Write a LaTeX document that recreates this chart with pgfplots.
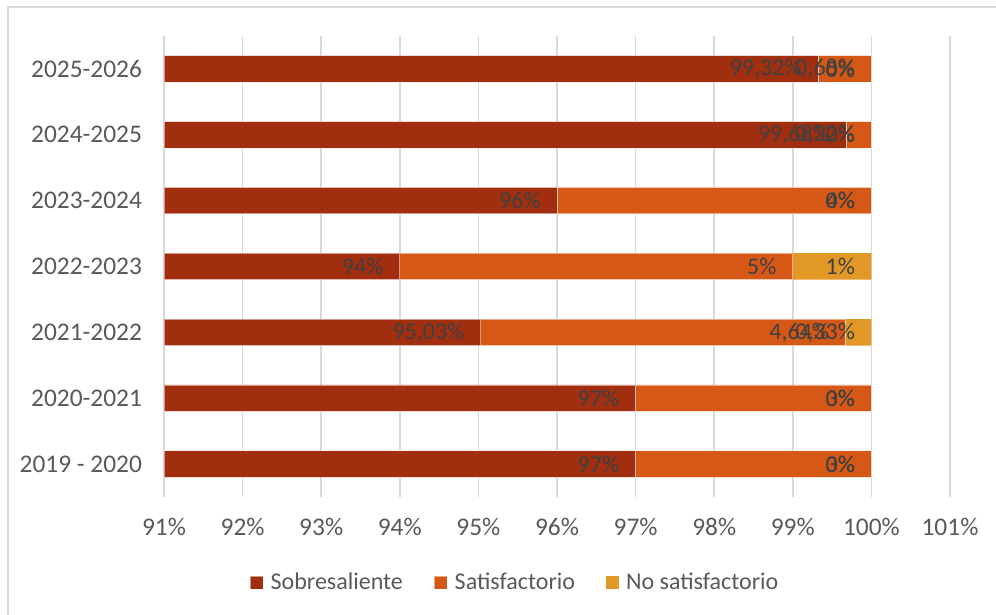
\documentclass[border=0pt]{standalone}
\usepackage{pgfplots}
\pgfplotsset{compat=1.18}
\usepackage{pgfplotstable}
\usepackage{fontspec}
\setmainfont{Carlito}
\definecolor{cSob}{HTML}{A22E10}
\definecolor{cSat}{HTML}{D55816}
\definecolor{cNo}{HTML}{E19826}
\definecolor{cgrid}{HTML}{D9D9D9}
\definecolor{ctick}{HTML}{595959}
\definecolor{clab}{HTML}{404040}

% y: category, v: value, e: end of the segment (for the label), l: label
\pgfplotstableread{
y v e l
0 97 97 97
1 97 97 97
2 95.03 95.03 95,03
3 94 94 94
4 96 96 96
5 99.68 99.68 99,68
6 99.32 99.32 99,32
}\sob
\pgfplotstableread{
y v e l
0 3 100 3
1 3 100 3
2 4.64 99.67 4,64
3 5 99 5
4 4 100 4
5 0.32 100 0,32
6 0.68 100 0,68
}\sat
\pgfplotstableread{
y v e l
0 0 100 0
1 0 100 0
2 0.33 100 0,33
3 1 100 1
4 0 100 0
5 0 100 0
6 0 100 0
}\nosat

\pgfplotsset{
  common/.style={
    at={(82pt,59pt)}, anchor=south west,
    scale only axis, width=393pt, height=230.5pt,
    xmin=91, xmax=101, ymin=-0.5, ymax=6.5,
    enlargelimits=false,
  },
  lbl/.style={only marks, mark=o, mark size=0pt, mark options={draw opacity=0},
    point meta=explicit symbolic,
    nodes near coords={\pgfplotspointmeta\%},
    every node near coord/.append style={anchor=east, xshift=-8pt,
      font=\fontsize{12pt}{14pt}\selectfont, text=clab, inner sep=0pt}},
}

\begin{document}
\begin{tikzpicture}
\path[use as bounding box] (0,0) rectangle (498pt,307.5pt);
\draw[cgrid, line width=0.7pt] (4pt,-2pt) -- (4pt,304pt) -- (500pt,304pt);
\begin{axis}[
  common,
  xbar stacked, bar width=13.25pt,
  axis line style={draw=none},
  major tick length=0pt,
  xtick={91,...,101},
  xticklabels={91\%,92\%,93\%,94\%,95\%,96\%,97\%,98\%,99\%,100\%,101\%},
  ytick={0,...,6},
  yticklabels={2019 - 2020,2020-2021,2021-2022,2022-2023,2023-2024,2024-2025,2025-2026},
  tick label style={font=\fontsize{12.7pt}{15pt}\selectfont, text=ctick},
  yticklabel style={xshift=-7.5pt},
  xticklabel style={yshift=-7pt},
  xmajorgrids, grid style={cgrid, line width=0.8pt},
  legend columns=3,
  legend style={at={(0.448,-0.186)}, anchor=center, draw=none, fill=none,
    font=\fontsize{12pt}{14pt}\selectfont, text=ctick,
    /tikz/every even column/.append style={column sep=13.5pt}},
  legend image code/.code={\fill[#1] (0pt,-3.25pt) rectangle (6.5pt,3.25pt);},
]
\addplot[fill=cSob, draw=white, draw opacity=0.5, line width=0.4pt] table[x=v,y=y] {\sob};
\addplot[fill=cSat, draw=white, draw opacity=0.5, line width=0.4pt] table[x=v,y=y] {\sat};
\addplot[fill=cNo, draw=none] table[x=v,y=y] {\nosat};
\legend{\hspace{1.5pt}Sobresaliente,\hspace{1.5pt}Satisfactorio,\hspace{1.5pt}No satisfactorio}
\end{axis}
\begin{axis}[common, hide axis, clip=false]
\addplot[lbl] table[x=e,y=y,meta=l] {\sob};
\addplot[lbl] table[x=e,y=y,meta=l] {\sat};
\addplot[lbl] table[x=e,y=y,meta=l] {\nosat};
\end{axis}
\end{tikzpicture}
\end{document}
